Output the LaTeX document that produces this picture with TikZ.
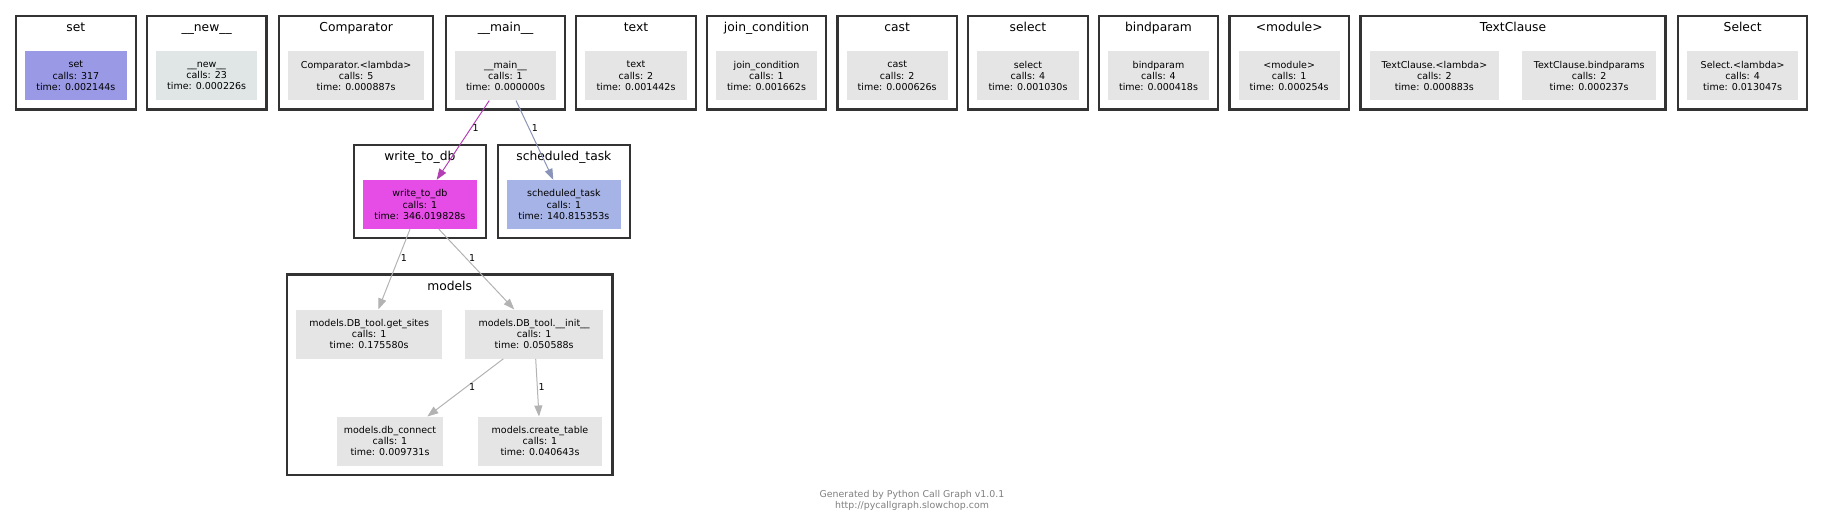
\documentclass[tikz,border=0pt]{standalone}
\usepackage{fontspec}
\setmainfont{DejaVu Sans}
\usetikzlibrary{fit,arrows.meta}
\definecolor{clborder}{HTML}{333333}
\definecolor{setc}{HTML}{9999E6}
\definecolor{newc}{HTML}{E0E6E6}
\definecolor{grayc}{HTML}{E5E5E5}
\definecolor{wdbc}{HTML}{E64CE6}
\definecolor{schc}{HTML}{A6B3E6}
\definecolor{edgem}{HTML}{B340B3}
\definecolor{edgeb}{HTML}{8A94B8}
\definecolor{edgeg}{HTML}{B3B3B3}
\definecolor{footc}{HTML}{808080}
\tikzset{
  fn/.style={rectangle, fill=grayc, inner sep=0pt, minimum height=49pt, align=center,
    font=\fontsize{9.5}{11.2}\selectfont},
  cluster/.style={draw=clborder, line width=2.2pt, inner sep=9pt},
  clabel/.style={font=\fontsize{12.3}{14}\selectfont, inner sep=0pt, anchor=base},
  call/.style={-{Triangle[length=11pt,width=8pt]}, line width=1pt},
  elabel/.style={font=\fontsize{9.5}{11}\selectfont, inner sep=0pt, text=black},
}
\begin{document}
\begin{tikzpicture}[x=1pt,y=-1pt]
\path[use as bounding box] (0,0) rectangle (1824,524);

% top row nodes
\node[fn, fill=setc, minimum width=101.7pt] (set) at (75.85,75.85) {set\\calls: 317\\time: 0.002144s};
\node[fn, fill=newc, minimum width=101.3pt] (new) at (206.65,75.85) {\_\_new\_\_\\calls: 23\\time: 0.000226s};
\node[fn, minimum width=135.7pt] (comp) at (356.15,75.85) {Comparator.<lambda>\\calls: 5\\time: 0.000887s};
\node[fn, minimum width=101pt] (main) at (505.5,75.85) {\_\_main\_\_\\calls: 1\\time: 0.000000s};
\node[fn, minimum width=101.4pt] (text) at (636,75.85) {text\\calls: 2\\time: 0.001442s};
\node[fn, minimum width=101pt] (join) at (766.5,75.85) {join\_condition\\calls: 1\\time: 0.001662s};
\node[fn, minimum width=101pt] (cast) at (897.2,75.85) {cast\\calls: 2\\time: 0.000626s};
\node[fn, minimum width=101.4pt] (sel) at (1028,75.85) {select\\calls: 4\\time: 0.001030s};
\node[fn, minimum width=101pt] (bind) at (1158.5,75.85) {bindparam\\calls: 4\\time: 0.000418s};
\node[fn, minimum width=101pt] (mod) at (1289.2,75.85) {<module>\\calls: 1\\time: 0.000254s};
\node[fn, minimum width=129.3pt] (tcl) at (1434.35,75.85) {TextClause.<lambda>\\calls: 2\\time: 0.000883s};
\node[fn, minimum width=134.3pt] (tcb) at (1589.15,75.85) {TextClause.bindparams\\calls: 2\\time: 0.000237s};
\node[fn, minimum width=110.7pt] (Sel) at (1742.65,75.85) {Select.<lambda>\\calls: 4\\time: 0.013047s};

% second row
\node[fn, fill=wdbc, minimum width=113.7pt] (wdb) at (419.85,204.5) {write\_to\_db\\calls: 1\\time: 346.019828s};
\node[fn, fill=schc, minimum width=113.7pt] (sch) at (563.85,204.5) {scheduled\_task\\calls: 1\\time: 140.815353s};

% models
\node[fn, minimum width=146.3pt] (gs) at (369.15,334.15) {models.DB\_tool.get\_sites\\calls: 1\\time: 0.175580s};
\node[fn, minimum width=138.3pt] (init) at (534.15,334.15) {models.DB\_tool.\_\_init\_\_\\calls: 1\\time: 0.050588s};
\node[fn, minimum width=106.6pt] (dbc) at (390,441.2) {models.db\_connect\\calls: 1\\time: 0.009731s};
\node[fn, minimum width=123.4pt] (ct) at (540,441.2) {models.create\_table\\calls: 1\\time: 0.040643s};

% top helper coordinates
\coordinate (tset) at ([yshift=26pt]set.north);
\coordinate (tnew) at ([yshift=26pt]new.north);
\coordinate (tcomp) at ([yshift=26pt]comp.north);
\coordinate (tmain) at ([yshift=26pt]main.north);
\coordinate (ttext) at ([yshift=26pt]text.north);
\coordinate (tjoin) at ([yshift=26pt]join.north);
\coordinate (tcast) at ([yshift=26pt]cast.north);
\coordinate (tsel) at ([yshift=26pt]sel.north);
\coordinate (tbind) at ([yshift=26pt]bind.north);
\coordinate (tmod) at ([yshift=26pt]mod.north);
\coordinate (ttc) at ([yshift=26pt]tcl.north);
\coordinate (tSel) at ([yshift=26pt]Sel.north);
\coordinate (twdb) at ([yshift=26pt]wdb.north);
\coordinate (tsch) at ([yshift=26pt]sch.north);
\coordinate (tmodels) at ([yshift=26pt]gs.north);

% clusters
\node[cluster, fit=(set)(tset)] (cset) {};
\node[cluster, fit=(new)(tnew)] (cnew) {};
\node[cluster, fit=(comp)(tcomp)] (ccomp) {};
\node[cluster, fit=(main)(tmain)] (cmain) {};
\node[cluster, fit=(text)(ttext)] (ctext) {};
\node[cluster, fit=(join)(tjoin)] (cjoin) {};
\node[cluster, fit=(cast)(tcast)] (ccast) {};
\node[cluster, fit=(sel)(tsel)] (csel) {};
\node[cluster, fit=(bind)(tbind)] (cbind) {};
\node[cluster, fit=(mod)(tmod)] (cmod) {};
\node[cluster, fit=(tcl)(tcb)(ttc)] (ctc) {};
\node[cluster, fit=(Sel)(tSel)] (cSel) {};
\node[cluster, fit=(wdb)(twdb)] (cwdb) {};
\node[cluster, fit=(sch)(tsch)] (csch) {};
\node[cluster, fit=(gs)(init)(dbc)(ct)(tmodels)] (cmodels) {};

% cluster labels (baseline placed below the top border)
\node[clabel] (lset) at ([yshift=-16.8pt]cset.north) {set};
\node[clabel] (lnew) at ([yshift=-16.8pt]cnew.north) {\_\_new\_\_};
\node[clabel] (lcomp) at ([yshift=-16.8pt]ccomp.north) {Comparator};
\node[clabel] (lmain) at ([yshift=-16.8pt]cmain.north) {\_\_main\_\_};
\node[clabel] (ltext) at ([yshift=-16.8pt]ctext.north) {text};
\node[clabel] (ljoin) at ([yshift=-16.8pt]cjoin.north) {join\_condition};
\node[clabel] (lcast) at ([yshift=-16.8pt]ccast.north) {cast};
\node[clabel] (lsel) at ([yshift=-16.8pt]csel.north) {select};
\node[clabel] (lbind) at ([yshift=-16.8pt]cbind.north) {bindparam};
\node[clabel] (lmod) at ([yshift=-16.8pt]cmod.north) {<module>};
\node[clabel] (ltc) at ([yshift=-16.8pt]ctc.north) {TextClause};
\node[clabel] (lSel) at ([yshift=-16.8pt]cSel.north) {Select};
\node[clabel] (lwdb) at ([yshift=-16.8pt]cwdb.north) {write\_to\_db};
\node[clabel] (lsch) at ([yshift=-16.8pt]csch.north) {scheduled\_task};
\node[clabel] (lmodels) at ([yshift=-16.8pt]cmodels.north) {models};

% edges
\draw[call, edgem] ([xshift=-16.2pt]main.south) -- ([xshift=16.85pt]wdb.north)
  node[elabel, pos=0.346, right=1pt] {1};
\draw[call, edgeb] ([xshift=10.5pt]main.south) -- ([xshift=-10.55pt]sch.north)
  node[elabel, pos=0.346, right=2.4pt] {1};
\draw[call, edgeg] ([xshift=-9.85pt]wdb.south) -- ([xshift=9.15pt]gs.north)
  node[elabel, pos=0.354, right=1.5pt] {1};
\draw[call, edgeg] ([xshift=19pt]wdb.south) -- ([xshift=-19.85pt]init.north)
  node[elabel, pos=0.354, right=3pt] {1};
\draw[call, edgeg] ([xshift=-30.85pt]init.south) -- ([xshift=37.3pt]dbc.north)
  node[elabel, pos=0.486, right=2.3pt] {1};
\draw[call, edgeg] ([xshift=1.55pt]init.south) -- ([xshift=-1pt]ct.north)
  node[elabel, pos=0.486, right=0.8pt] {1};

% footer
\node[font=\fontsize{9.4}{10.7}\selectfont, text=footc, align=center, inner sep=0pt] (foot) at (912,500.6)
  {Generated by Python Call Graph v1.0.1\\http://pycallgraph.slowchop.com};
\end{tikzpicture}
\end{document}
